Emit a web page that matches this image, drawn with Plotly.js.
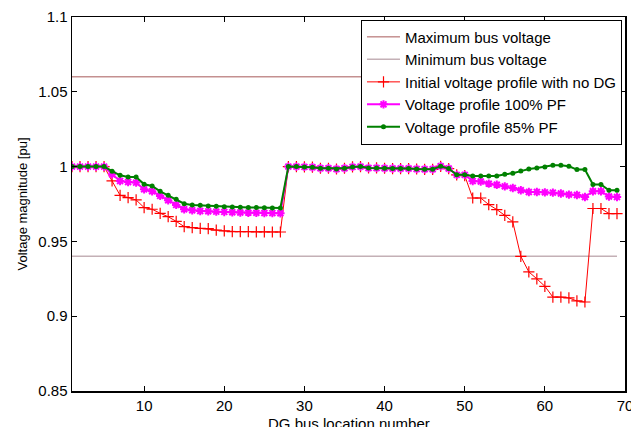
<!DOCTYPE html>
<html>
<head>
<meta charset="utf-8">
<script src="https://cdn.plot.ly/plotly-3.0.1.min.js"></script>
<style>html,body{margin:0;padding:0;background:#fff;}#chart{width:631px;height:427px;}</style>
</head>
<body>
<div id="chart"></div>
<script>
// Bus numbers 1..69
var busNumbers = [];
for (var i = 1; i <= 69; i++) busNumbers.push(i);

var maxVoltage = 1.06;
var minVoltage = 0.94;

var initialNoDG = [
  1.000, 1.000, 1.000, 1.000, 1.000, 0.9904, 0.9808, 0.9793, 0.9777, 0.9726,
  0.9715, 0.9688, 0.9665, 0.9634, 0.9599, 0.9592, 0.9587, 0.9585, 0.9576, 0.9570,
  0.9566, 0.9565, 0.9565, 0.9564, 0.9564, 0.9563, 0.9563, 1.000, 1.000, 0.9998,
  0.9996, 0.9989, 0.9989, 0.9984, 0.9989, 0.9998, 1.000, 0.9991, 0.9991, 0.9989,
  0.9987, 0.9987, 0.9987, 0.9984, 0.9982, 0.9982, 1.0002, 0.9987, 0.9945, 0.9940,
  0.9790, 0.9790, 0.9746, 0.9713, 0.9674, 0.9630, 0.9400, 0.9296, 0.9250, 0.9200,
  0.9128, 0.9128, 0.9122, 0.9102, 0.9095, 0.9720, 0.9720, 0.9686, 0.9686
];

var profile100PF = [
  1.000, 1.000, 1.000, 1.000, 1.000, 0.9949, 0.9904, 0.9897, 0.9893, 0.9848,
  0.9835, 0.9804, 0.9775, 0.9744, 0.9715, 0.9708, 0.9703, 0.9701, 0.9699, 0.9697,
  0.9695, 0.9693, 0.9692, 0.9691, 0.9690, 0.9689, 0.9688, 1.000, 1.000, 0.9998,
  0.9996, 0.9989, 0.9989, 0.9984, 0.9989, 0.9998, 1.000, 0.9991, 0.9991, 0.9989,
  0.9987, 0.9987, 0.9987, 0.9984, 0.9982, 0.9982, 1.0002, 0.9987, 0.9945, 0.9945,
  0.9904, 0.9900, 0.9886, 0.9879, 0.9868, 0.9857, 0.9842, 0.9830, 0.9830, 0.9828,
  0.9826, 0.9820, 0.9813, 0.9810, 0.9797, 0.9835, 0.9835, 0.9800, 0.9797
];

var profile85PF = [
  1.000, 1.000, 1.000, 1.000, 1.000, 0.9969, 0.9942, 0.9931, 0.9931, 0.9882,
  0.9871, 0.9835, 0.9808, 0.9781, 0.9752, 0.9744, 0.9741, 0.9737, 0.9735, 0.9732,
  0.9730, 0.9728, 0.9727, 0.9726, 0.9725, 0.9724, 0.9723, 1.000, 1.000, 0.9998,
  0.9996, 0.9989, 0.9989, 0.9984, 0.9989, 0.9998, 1.000, 0.9991, 0.9991, 0.9989,
  0.9987, 0.9987, 0.9987, 0.9984, 0.9982, 0.9982, 1.0002, 0.9987, 0.9945, 0.9945,
  0.9937, 0.9937, 0.9937, 0.9937, 0.9949, 0.9955, 0.9970, 0.9984, 0.9991, 0.9998,
  1.0009, 1.0009, 1.0002, 0.9980, 0.9980, 0.9880, 0.9880, 0.9842, 0.9842
];

var xTickVals = [10, 20, 30, 40, 50, 60, 70];
var xTickText = ["10", "20", "30", "40", "50", "60", "70"];
var yTickVals = [0.85, 0.9, 0.95, 1, 1.05, 1.1];
var yTickText = ["0.85", "0.9", "0.95", "1", "1.05", "1.1"];

var xTitle = "DG bus location number";
var yTitle = "Voltage magnitude [pu]";

var seriesNames = [
  "Maximum bus voltage",
  "Minimum bus voltage",
  "Initial voltage profile with no DG",
  "Voltage profile 100% PF",
  "Voltage profile 85% PF"
];

var maxLine = busNumbers.map(function(){ return maxVoltage; });
var minLine = busNumbers.map(function(){ return minVoltage; });

var FONT = "Liberation Sans, Arial, sans-serif";

var traces = [
  {x: busNumbers, y: maxLine, name: seriesNames[0], mode: "lines",
   line: {color: "#a85a5a", width: 1}},
  {x: busNumbers, y: minLine, name: seriesNames[1], mode: "lines",
   line: {color: "#c4b0b6", width: 1.5}},
  {x: busNumbers, y: initialNoDG, name: seriesNames[2], mode: "lines+markers",
   line: {color: "#ff0000", width: 1},
   marker: {symbol: "cross-thin-open", size: 8, color: "#ff0000", line: {color: "#ff0000", width: 1.2}}},
  {x: busNumbers, y: profile100PF, name: seriesNames[3], mode: "lines+markers",
   line: {color: "#ff00ff", width: 2},
   marker: {symbol: "asterisk-open", size: 7, color: "#ff00ff", line: {color: "#ff00ff", width: 2}}},
  {x: busNumbers, y: profile85PF, name: seriesNames[4], mode: "lines+markers",
   line: {color: "#008000", width: 2},
   marker: {symbol: "circle", size: 5, color: "#008000"}}
];

var layout = {
  width: 631, height: 427,
  margin: {l: 72, r: 6, t: 17, b: 36, pad: 0},
  paper_bgcolor: "#ffffff", plot_bgcolor: "#ffffff",
  font: {family: FONT, size: 15, color: "#000000"},
  showlegend: true,
  legend: {
    x: 0.5226, y: 0.993, xanchor: "left", yanchor: "top",
    bgcolor: "#ffffff", bordercolor: "#000000", borderwidth: 1,
    font: {family: FONT, size: 15, color: "#000000"},
    itemwidth: 33,
    tracegroupgap: 0
  },
  annotations: [{
    text: xTitle, xref: "paper", yref: "paper", x: 0.5, y: -0.062,
    xanchor: "center", yanchor: "top", showarrow: false, borderpad: 0,
    font: {family: FONT, size: 15, color: "#000000"}
  }],
  xaxis: {
    range: [1, 70], tickmode: "array", tickvals: xTickVals, ticktext: xTickText,
    ticks: "inside", ticklen: 5, tickcolor: "#000000",
    showline: true, linecolor: "#000000", linewidth: 1.5, mirror: "ticks",
    showgrid: false, zeroline: false, ticklabeloverflow: "allow",
    tickfont: {family: FONT, size: 15}
  },
  yaxis: {
    range: [0.85, 1.1], tickmode: "array", tickvals: yTickVals, ticktext: yTickText,
    ticks: "inside", ticklen: 5, tickcolor: "#000000",
    showline: true, linecolor: "#000000", linewidth: 1.5, mirror: "ticks",
    showgrid: false, zeroline: false,
    tickfont: {family: FONT, size: 15},
    title: {text: yTitle, font: {family: FONT, size: 13}, standoff: 7}
  }
};

Plotly.newPlot("chart", traces, layout, {displayModeBar: false, staticPlot: true});
</script>
</body>
</html>
